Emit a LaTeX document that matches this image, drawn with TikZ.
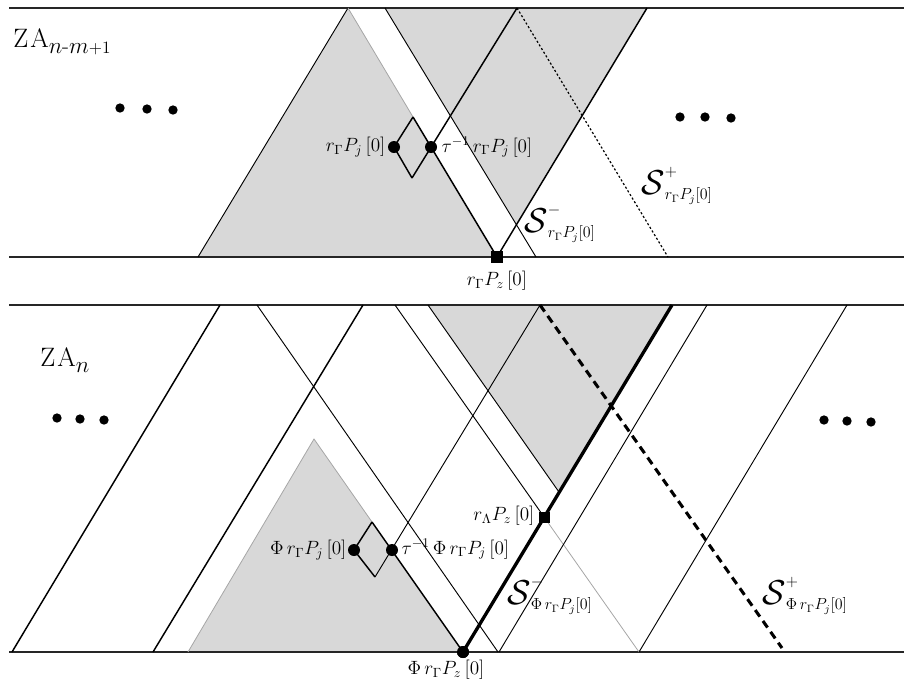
\documentclass[tikz,border=0pt]{standalone}
\usepackage{amsmath}
\usepackage{graphicx}
\definecolor{areagray}{RGB}{216,216,216}
\newcommand{\bigS}{\scalebox{1.5}{$\mathcal{S}$}}
\newcommand{\zasub}[2]{\raisebox{-4.5pt}{\fontsize{17}{20}\selectfont#1\fontsize{13}{15}\selectfont#2}}
\begin{document}
\begin{tikzpicture}[x=0.75pt,y=-0.75pt,
  rule/.style={line width=1.3pt, draw=black!85},
  ln/.style={line width=0.7pt},
  lnm/.style={line width=1.1pt},
  lnh/.style={line width=2.5pt},
  pale/.style={line width=0.6pt, draw=black!35},
  finedots/.style={line width=0.9pt, dash pattern=on 1.6pt off 1.6pt},
  bolddash/.style={line width=2.3pt, dash pattern=on 6pt off 4pt},
  vertex/.style={circle, fill=black, inner sep=0pt, minimum size=9pt},
  sqvertex/.style={rectangle, fill=black, inner sep=0pt, minimum size=8.5pt},
  ell/.style={circle, fill=black, inner sep=0pt, minimum size=7pt},
  lab/.style={inner sep=1pt, font=\fontsize{14}{16}\selectfont},
  slab/.style={inner sep=0pt, anchor=base west, font=\fontsize{17}{20}\selectfont},
  zalab/.style={inner sep=0pt, anchor=base west, font=\fontsize{20}{24}\selectfont},
]
\useasboundingbox (0,0) rectangle (904,683);

% ---------------- upper strip: ZA_{n-m+1} ----------------
\coordinate (uTL) at (9,8);     \coordinate (uTR) at (904,8);
\coordinate (uBL) at (9,257);   \coordinate (uBR) at (904,257);
\coordinate (uA)  at (198,257); \coordinate (uApex) at (348,8);
\coordinate (uB1) at (385,8);   \coordinate (uB2) at (536,257);
\coordinate (uC)  at (647,8);
\coordinate (uD1) at (517,8);   \coordinate (uD2) at (668,257);
\coordinate (uDt) at (413,117); \coordinate (uDb) at (412,178);
\node[sqvertex] (uSq) at (497,257) {};
\coordinate (uG) at (intersection of uB1--uB2 and uSq.center--uC);

\fill[areagray] (uA) -- (uApex) -- (uSq.center) -- cycle;
\fill[areagray] (uB1) -- (uC) -- (uG) -- cycle;

\draw[rule] (uTL) -- (uTR);
\draw[rule] (uBL) -- (uBR);
\draw[ln] (uA) -- (uApex);
\draw[pale] (uApex) -- (uDt);
\draw[lnm] (uDt) -- (uSq.center);
\draw[ln] (uB1) -- (uB2);
\draw[lnm] (uSq.center) -- (uC);
\draw[lnm] (uDb) -- (uD1);
\draw[finedots] (uD1) -- (uD2);

\node[vertex] (uDl) at (394,147) {};
\node[vertex] (uDr) at (431,147) {};
\draw[lnm] (uDl.center) -- (uDt) (uDl.center) -- (uDb);
\node[sqvertex] at (uSq) {};

\node[lab, anchor=east] (uLj) at (387,147) {$r_\Gamma P_j\,[0]$};
\node[lab, anchor=west] (uLt) at (440,147) {$\tau^{-1}\, r_\Gamma P_j\,[0]$};
\node[lab] (uLz) at (497,281) {$r_\Gamma P_z\,[0]$};
\node[slab] (uSm) at (524,232) {$\bigS^{-}_{r_\Gamma P_j[0]}$};
\node[slab] (uSp) at (641,194) {$\bigS^{+}_{r_\Gamma P_j[0]}$};
\node[zalab] (uZA) at (13,47) {Z\kern1.5pt A\zasub{$n$-$m$}{+1}};

\node[ell] (ue1) at (120,108) {};
\node[ell] (ue2) at (147,109) {};
\node[ell] (ue3) at (173,110) {};
\node[ell] (ue4) at (680,117) {};
\node[ell] (ue5) at (705,117) {};
\node[ell] (ue6) at (731,118) {};

% ---------------- lower strip: ZA_n ----------------
\coordinate (lTL) at (9,305);   \coordinate (lTR) at (904,305);
\coordinate (lBL) at (9,652);   \coordinate (lBR) at (904,652);
\coordinate (lA1) at (12,652);  \coordinate (lA2) at (220,305);
\coordinate (lB1) at (153,652); \coordinate (lB2) at (363,305);
\coordinate (lT1) at (188,652); \coordinate (lApex) at (314,439);
\coordinate (lS1) at (257,305); \coordinate (lS2) at (498,652);
\coordinate (lDt) at (372,522); \coordinate (lDb) at (375,577);
\coordinate (lD1) at (540,305); \coordinate (lD2) at (782,648);
\coordinate (lQ1) at (395,305); \coordinate (lQ2) at (639,652);
\coordinate (lG1) at (428,305); \coordinate (lGx) at (671,652);
\coordinate (lH2) at (672,305);
\coordinate (lR1) at (499,652); \coordinate (lR2) at (707,305);
\coordinate (lU2) at (847,305);
\node[vertex] (lPz) at (463,652) {};
\coordinate (lG) at (intersection of lG1--lGx and lPz.center--lH2);
\coordinate (lSqc) at (intersection of lQ1--lQ2 and lPz.center--lH2);

\fill[areagray] (lT1) -- (lApex) -- (lPz.center) -- cycle;
\fill[areagray] (lG1) -- (lH2) -- (lG) -- cycle;

\draw[rule] (lTL) -- (lTR);
\draw[rule] (lBL) -- (lBR);
\draw[lnm] (lA1) -- (lA2);
\draw[lnm] (lB1) -- (lB2);
\draw[pale] (lT1) -- (lApex) -- (lDt);
\draw[lnm] (lDt) -- (lPz.center);
\draw[ln] (lS1) -- (lS2);
\draw[ln] (lDb) -- (lD1);
\draw[ln] (lQ1) -- (lSqc);
\draw[pale] (lSqc) -- (lQ2);
\draw[ln] (lG1) -- (lG);
\draw[ln] (lR1) -- (lR2);
\draw[ln] (lQ2) -- (lU2);
\draw[bolddash] (lD1) -- (lD2);
\draw[lnh] (lPz.center) -- (lH2);

\node[vertex] (lDl) at (354,550) {};
\node[vertex] (lDr) at (392,550) {};
\draw[lnm] (lDl.center) -- (lDt) (lDl.center) -- (lDb);
\node[sqvertex] (lSq) at (lSqc) {};
\node[vertex] at (lPz) {};

\node[lab, anchor=east] (lLj) at (348,550) {$\Phi\, r_\Gamma P_j\,[0]$};
\node[lab, anchor=west] (lLt) at (400,549) {$\tau^{-1}\,\Phi\, r_\Gamma P_j\,[0]$};
\node[lab, anchor=east] (lLz) at (536,516) {$r_\Lambda P_z\,[0]$};
\node[lab] (lLp) at (446,670) {$\Phi\, r_\Gamma P_z\,[0]$};
\node[slab] (lSm) at (507,604) {$\bigS^{-}_{\Phi\, r_\Gamma P_j[0]}$};
\node[slab] (lSp) at (762,604) {$\bigS^{+}_{\Phi\, r_\Gamma P_j[0]}$};
\node[zalab] (lZA) at (40,366) {Z\kern1.5pt A\zasub{$n$}{}};

\node[ell] (le1) at (57,418) {};
\node[ell] (le2) at (80,419) {};
\node[ell] (le3) at (104,420) {};
\node[ell] (le4) at (824,420) {};
\node[ell] (le5) at (847,421) {};
\node[ell] (le6) at (871,422) {};
\end{tikzpicture}
\end{document}
